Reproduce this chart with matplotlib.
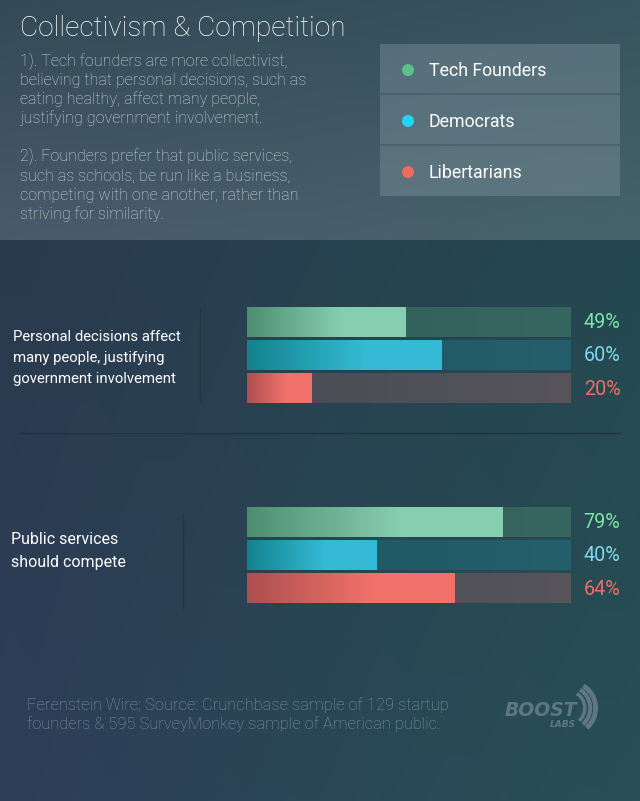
import numpy as np
import matplotlib
matplotlib.use('Agg')
import matplotlib.pyplot as plt
import matplotlib.transforms as mtransforms
from matplotlib.colors import LinearSegmentedColormap
from matplotlib.patches import Rectangle, Circle, Arc

# data
groups = ['Tech Founders', 'Democrats', 'Libertarians']
questions = ['Personal decisions affect\nmany people, justifying\ngovernment involvement',
             'Public services\nshould compete']
personal_vals = [49, 60, 20]
compete_vals = [79, 40, 64]
title = 'Collectivism & Competition'
notes = ['1). Tech founders are more collectivist,',
         'believing that personal decisions, such as',
         'eating healthy, affect many people,',
         'justifying government involvement.',
         '',
         '2). Founders prefer that public services,',
         'such as schools, be run like a business,',
         'competing with one another, rather than',
         'striving for similarity.']
source = ['Ferenstein Wire; Source: Crunchbase sample of 129 startup',
          'founders & 595 SurveyMonkey sample of American public.']

# styles
dot_cols = ['#5cbf8e', '#22d5f2', '#ef6960']
val_cols = ['#7ee3a6', '#80d8ef', '#ef6d62']
fill_dark = ['#4e8e70', '#13828f', '#ad4f4f']
fill_light = ['#87ceb0', '#34bad4', '#f1716a']
track_l = ['#2f5f58', '#1f5762', '#474c55']
track_r = ['#376660', '#245f6b', '#57545b']
light = ['Roboto', 'DejaVu Sans']
narrow = ['Roboto', 'DejaVu Sans']

W, H = 640, 801
fig = plt.figure(figsize=(W / 100, H / 100), dpi=100)
bg = fig.add_axes([0, 0, 1, 1])
bg.set_xlim(0, W)
bg.set_ylim(H, 0)
bg.axis('off')

# background gradient
def bilinear(tl, tr, bl, br, h, w):
    yy = np.linspace(0, 1, h)[:, None, None]
    xx = np.linspace(0, 1, w)[None, :, None]
    tl, tr, bl, br = [np.array(c, float)[None, None, :] / 255 for c in (tl, tr, bl, br)]
    top = tl * (1 - xx) + tr * xx
    bot = bl * (1 - xx) + br * xx
    return top * (1 - yy) + bot * yy

img = np.zeros((H, W, 3))
img[:240] = bilinear((50, 74, 86), (56, 84, 94), (74, 90, 108), (70, 100, 106), 240, W)
img[240:] = bilinear((42, 58, 78), (36, 72, 80), (45, 62, 88), (40, 80, 86), H - 240, W)
bg.imshow(img, extent=[0, W, H, 0], aspect='auto', zorder=0)

# title and notes
bg.text(20, 36, title, fontsize=20.2, color='white', family=light, weight='light')
for k, line in enumerate(notes):
    bg.text(20, 66 + k * 19.1, line, fontsize=11.6, color='#d0d5d9', family=light, weight='light')

# legend box
bg.add_patch(Rectangle((380, 44), 240, 152, facecolor='#7b919c', alpha=0.45, edgecolor='none', zorder=1))
for yy in (94, 145):
    bg.plot([380, 620], [yy, yy], color='#4a5f6b', lw=1.2, zorder=2)
for k, g in enumerate(groups):
    cy = 70 + k * 51
    bg.add_patch(Circle((408, cy), 6, facecolor=dot_cols[k], edgecolor='none', zorder=3))
    bg.text(429, cy + 1, g, fontsize=12.8, color='white', family=narrow, va='center', zorder=3)

# divider lines
bg.plot([20, 620], [433, 433], color='#1f3440', lw=1, zorder=1)
bg.plot([200, 200], [308, 402], color='#223845', lw=1, zorder=1)
bg.plot([183, 183], [515, 608], color='#223845', lw=1, zorder=1)

# question labels
bg.text(13, 358, questions[0], fontsize=10.7, color='white', family=narrow, va='center',
        linespacing=1.68)
bg.text(11, 551, questions[1], fontsize=11.5, color='white', family=narrow, va='center',
        linespacing=1.7)

# bars
h = 0.9
def bar_group(top_px, vals):
    pitch = 33.2
    height_px = (2 + h) * pitch
    ax = fig.add_axes([246.5 / W, 1 - (top_px + height_px) / H, 324 / W, height_px / H])
    ax.axis('off')
    ax.patch.set_alpha(0)
    ramp = np.clip(np.linspace(0, 1, 256) / 0.6, 0, 1)[None, :]
    tramp = np.linspace(0, 1, 256)[None, :]
    for i, v in enumerate(vals):
        tcm = LinearSegmentedColormap.from_list('t%d' % i, [track_l[i], track_r[i]])
        tb = ax.barh(i, 100, height=h, color=track_r[i], linewidth=0)[0]
        ax.imshow(tramp, extent=[0, 100, i + h / 2, i - h / 2], aspect='auto', cmap=tcm,
                  clip_path=tb, zorder=2)
        fcm = LinearSegmentedColormap.from_list('f%d' % i, [fill_dark[i], fill_light[i]])
        fb = ax.barh(i, v, height=h, color=fill_light[i], linewidth=0, zorder=3)[0]
        ax.imshow(ramp, extent=[0, v, i + h / 2, i - h / 2], aspect='auto', cmap=fcm,
                  clip_path=fb, zorder=4)
        trans = mtransforms.blended_transform_factory(ax.transAxes, ax.transData)
        ax.text(1.154, i + 0.02, '%d%%' % v, transform=trans, ha='right', va='center',
                fontsize=14.2, color=val_cols[i], family=narrow, clip_on=False)
    ax.set_xlim(0, 100)
    ax.set_ylim(2 + h / 2, -h / 2)

bar_group(307, personal_vals)
bar_group(507, compete_vals)

# source
for k, line in enumerate(source):
    bg.text(27, 710 + k * 19.5, line, fontsize=11.9, color='#8194a0', family=light, weight='light')

# logo
logo_c = '#5f7683'
bg.text(505, 716, 'BOOST', fontsize=13.5, color=logo_c, weight='heavy', style='italic',
        family=['DejaVu Sans'])
bg.text(550, 727, 'LABS', fontsize=6.5, color=logo_c, weight='heavy', style='italic',
        family=['DejaVu Sans'])
for r, lw in ((22, 2.5), (28, 3), (34, 3.5)):
    bg.add_patch(Arc((565 + r * 0.3, 708), r * 1.2, r * 1.4, theta1=-70, theta2=60,
                     color=logo_c, lw=lw))

fig.savefig('out.png', dpi=100)
